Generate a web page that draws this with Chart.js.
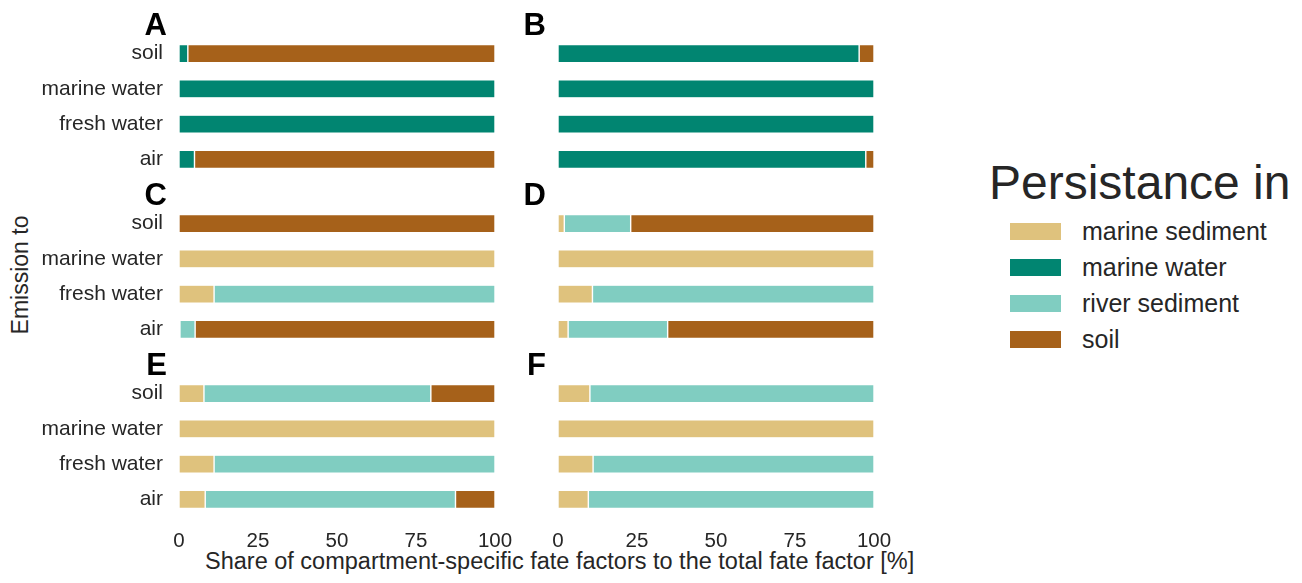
<!DOCTYPE html>
<html>
<head>
<meta charset="utf-8">
<title>Persistance per emission compartment</title>
<script src="https://cdn.jsdelivr.net/npm/chart.js@4.4.1/dist/chart.umd.min.js"></script>
<style>
  html, body { margin: 0; padding: 0; background: #fff; }
  body {
    position: relative; width: 1302px; height: 583px; overflow: hidden;
    font-family: "Liberation Sans", Arial, sans-serif; color: #262626;
  }
  canvas.panel { position: absolute; }
  .letter {
    position: absolute; width: 60px; text-align: right;
    font-size: 31px; font-weight: bold; line-height: 1; color: #000;
  }
  .xtitle { position: absolute; left: 205px; top: 550px; font-size: 23.5px; line-height: 1; white-space: nowrap; }
  .ytitle {
    position: absolute; left: 20px; top: 275px; font-size: 23px; line-height: 1; white-space: nowrap;
    transform: translate(-50%, -50%) rotate(-90deg);
  }
  .legend { position: absolute; left: 989px; top: 159px; }
  .legend h2 { margin: 0; font-size: 48px; font-weight: normal; line-height: 1; white-space: nowrap; }
  .legend .item { position: absolute; left: 21px; height: 36px; white-space: nowrap; }
  .legend .sw { position: absolute; left: 0; width: 51px; height: 17px; }
  .legend .lbl { position: absolute; left: 72px; font-size: 25px; line-height: 1; }
</style>
</head>
<body>

<div class="ytitle">Emission to</div>
<div class="xtitle">Share of compartment-specific fate factors to the total fate factor [%]</div>
<div class="legend" id="legend"><h2>Persistance in</h2></div>

<script>
/* ── data (shares in %, rows top → bottom) ── */
const categories = ["soil", "marine water", "fresh water", "air"];
const seriesNames = ["marine sediment", "marine water", "river sediment", "soil"];
const seriesColors = ["#dfc27d", "#018571", "#80cdc1", "#a6611a"];
const xTicks = [0, 25, 50, 75, 100];

const A_marineSediment = [0, 0, 0, 0];
const A_marineWater    = [2.8, 100, 100, 4.9];
const A_riverSediment  = [0, 0, 0, 0];
const A_soil           = [97.2, 0, 0, 95.1];

const B_marineSediment = [0, 0, 0, 0];
const B_marineWater    = [95.3, 100, 100, 97.4];
const B_riverSediment  = [0, 0, 0, 0];
const B_soil           = [4.7, 0, 0, 2.6];

const C_marineSediment = [0, 100, 11.1, 0.3];
const C_marineWater    = [0, 0, 0, 0];
const C_riverSediment  = [0, 0, 88.9, 4.8];
const C_soil           = [100, 0, 0, 94.9];

const D_marineSediment = [2.0, 100, 10.9, 3.2];
const D_marineWater    = [0, 0, 0, 0];
const D_riverSediment  = [21.0, 0, 89.1, 31.5];
const D_soil           = [77.0, 0, 0, 65.3];

const E_marineSediment = [7.9, 100, 11.1, 8.3];
const E_marineWater    = [0, 0, 0, 0];
const E_riverSediment  = [71.8, 0, 88.9, 79.2];
const E_soil           = [20.3, 0, 0, 12.5];

const F_marineSediment = [10.1, 100, 11.1, 9.6];
const F_marineWater    = [0, 0, 0, 0];
const F_riverSediment  = [89.9, 0, 88.9, 90.4];
const F_soil           = [0, 0, 0, 0];

/* ── layout ── */
const COL_LEFT = [179, 558];
const ROW_TOP  = [36, 206, 376];
const PLOT_W   = 316;
const PLOT_H   = 141;
const X_AXIS_H = 45;
const EDGE_PAD = 20;
const FONT     = "'Liberation Sans', Arial, sans-serif";

const panels = [
  { letter: "A", col: 0, row: 0, series: [A_marineSediment, A_marineWater, A_riverSediment, A_soil] },
  { letter: "B", col: 1, row: 0, series: [B_marineSediment, B_marineWater, B_riverSediment, B_soil] },
  { letter: "C", col: 0, row: 1, series: [C_marineSediment, C_marineWater, C_riverSediment, C_soil] },
  { letter: "D", col: 1, row: 1, series: [D_marineSediment, D_marineWater, D_riverSediment, D_soil] },
  { letter: "E", col: 0, row: 2, series: [E_marineSediment, E_marineWater, E_riverSediment, E_soil] },
  { letter: "F", col: 1, row: 2, series: [F_marineSediment, F_marineWater, F_riverSediment, F_soil] },
];

panels.forEach(makePanel);
buildLegend();

function makePanel(p) {
  const showY = p.col === 0;
  const showX = p.row === 2;

  const canvas = document.createElement("canvas");
  canvas.className = "panel";
  const left   = showY ? 0 : COL_LEFT[p.col] - EDGE_PAD;
  const width  = showY ? COL_LEFT[0] + PLOT_W + EDGE_PAD : PLOT_W + 2 * EDGE_PAD;
  const height = PLOT_H + (showX ? X_AXIS_H : 0);
  canvas.width  = width;
  canvas.height = height;
  canvas.style.left = left + "px";
  canvas.style.top  = ROW_TOP[p.row] + "px";
  document.body.appendChild(canvas);

  const letter = document.createElement("div");
  letter.className = "letter";
  letter.textContent = p.letter;
  letter.style.left = (COL_LEFT[p.col] - 12 - 60) + "px";
  letter.style.top  = (ROW_TOP[p.row] - 27) + "px";
  document.body.appendChild(letter);

  new Chart(canvas, {
    type: "bar",
    data: {
      labels: categories,
      datasets: seriesNames.map((name, i) => ({
        label: name,
        data: p.series[i].map((v) => (v > 0 ? v : null)),
        backgroundColor: seriesColors[i],
        borderColor: "rgba(255,255,255,0.75)",
        borderWidth: 0.7,
        borderSkipped: false,
        categoryPercentage: 1,
        barPercentage: 0.51,
      })),
    },
    options: {
      indexAxis: "y",
      responsive: false,
      animation: false,
      events: [],
      layout: {
        padding: { left: showY ? 0 : EDGE_PAD, right: EDGE_PAD, top: 0, bottom: 0 },
      },
      plugins: { legend: { display: false }, tooltip: { enabled: false } },
      scales: {
        x: {
          type: "linear",
          stacked: true,
          min: 0,
          max: 100,
          display: showX,
          grid: { display: false, drawTicks: false },
          border: { display: false },
          afterBuildTicks: (scale) => { scale.ticks = xTicks.map((v) => ({ value: v })); },
          afterFit: (scale) => {
            scale.paddingLeft = 0;
            scale.paddingRight = 0;
            if (showX) scale.height = X_AXIS_H;
          },
          ticks: { padding: 12, maxRotation: 0, color: "#262626", font: { family: FONT, size: 20.5 } },
        },
        y: {
          type: "category",
          stacked: true,
          display: showY,
          grid: { display: false, drawTicks: false },
          border: { display: false },
          afterFit: (scale) => {
            scale.paddingTop = 0;
            scale.paddingBottom = 0;
            if (showY) scale.width = COL_LEFT[0];
          },
          ticks: { padding: 16, autoSkip: false, color: "#262626", font: { family: FONT, size: 21 } },
        },
      },
    },
  });
}

function buildLegend() {
  const box = document.getElementById("legend");
  seriesNames.forEach((name, i) => {
    const item = document.createElement("div");
    item.className = "item";
    item.style.top = (64 + i * 36) + "px";
    item.innerHTML =
      `<span class="sw" style="background:${seriesColors[i]};top:0"></span>` +
      `<span class="lbl" style="top:-4px">${name}</span>`;
    box.appendChild(item);
  });
}
</script>
</body>
</html>
